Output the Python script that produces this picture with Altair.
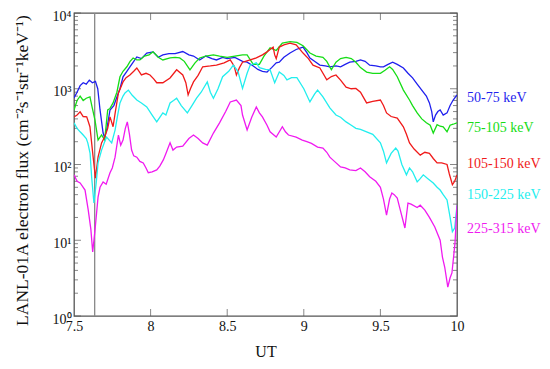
import altair as alt
import pandas as pd

series_names = ["50-75 keV", "75-105 keV", "105-150 keV", "150-225 keV", "225-315 keV"]
series_colors = ["#1f1fee", "#16dd16", "#f01a1a", "#22eeee", "#f01af0"]

t_blue = [7.50, 7.52, 7.54, 7.56, 7.58, 7.60, 7.62, 7.64, 7.655, 7.67, 7.69, 7.70, 7.715, 7.735, 7.76, 7.78,
          7.80, 7.82, 7.845, 7.865, 7.89, 7.91, 7.94, 7.975, 8.016, 8.05, 8.08, 8.12, 8.16, 8.21, 8.25, 8.28,
          8.32, 8.36, 8.40, 8.43, 8.47, 8.50, 8.55, 8.60, 8.63, 8.67, 8.70, 8.73, 8.76, 8.79, 8.82, 8.84,
          8.87, 8.91, 8.95, 8.995, 9.02, 9.04, 9.07, 9.105, 9.14, 9.17, 9.21, 9.24, 9.27, 9.30, 9.34, 9.37,
          9.40, 9.43, 9.47, 9.50, 9.52, 9.55, 9.58, 9.61, 9.65, 9.68, 9.71, 9.74, 9.78, 9.80, 9.82, 9.835,
          9.845, 9.86, 9.875, 9.89, 9.91, 9.935, 9.955, 9.975, 10.0]
v_blue = [755, 900, 1100, 1200, 1150, 1300, 1200, 1250, 1000, 525, 260, 225, 300, 525, 600, 780,
          1000, 1440, 1700, 1950, 2300, 2630, 2500, 2960, 3070, 2600, 2800, 2900, 2900, 3100, 2800, 2700,
          2400, 2700, 2500, 2400, 2600, 2500, 2600, 2300, 2240, 2000, 1800, 1700, 1660, 1900, 2200, 2240,
          2600, 2960, 3300, 3550, 3000, 2550, 2300, 2050, 2000, 1950, 2000, 1950, 2100, 2240, 2300, 2400,
          2300, 2050, 2000, 1950, 1950, 2100, 2240, 2100, 1880, 1600, 1390, 1150, 900, 800, 650, 500,
          365, 450, 500, 525, 450, 480, 600, 710, 830]

t_green = [7.50, 7.52, 7.54, 7.56, 7.58, 7.604, 7.62, 7.637, 7.657, 7.67, 7.68, 7.70, 7.72, 7.735, 7.755, 7.78,
           7.80, 7.82, 7.845, 7.866, 7.886, 7.91, 7.93, 7.96, 7.99, 8.016, 8.05, 8.08, 8.127, 8.16, 8.19, 8.22,
           8.257, 8.29, 8.32, 8.36, 8.41, 8.45, 8.50, 8.55, 8.60, 8.63, 8.67, 8.71, 8.74, 8.78, 8.82, 8.86,
           8.91, 8.955, 8.995, 9.04, 9.08, 9.125, 9.15, 9.18, 9.21, 9.24, 9.276, 9.31, 9.34, 9.37, 9.41, 9.45,
           9.50, 9.53, 9.56, 9.58, 9.61, 9.65, 9.69, 9.71, 9.74, 9.77, 9.80, 9.825, 9.845, 9.87, 9.89, 9.91,
           9.935, 9.955, 9.975, 10.0]
v_green = [525, 700, 800, 700, 750, 780, 550, 385, 210, 230, 245, 210, 525, 550, 650, 900,
           1440, 1700, 1950, 2300, 2550, 2400, 2400, 2700, 2800, 3070, 2600, 2400, 2550, 2600, 2550, 2300,
           1780, 2200, 2550, 2700, 2800, 2700, 2600, 2700, 2800, 2800, 2100, 2100, 2700, 3460, 3200, 4000,
           4200, 4100, 3700, 2960, 2700, 2600, 2300, 1780, 2240, 2500, 2600, 2500, 2240, 1900, 1660, 1600,
           1600, 1750, 1950, 1800, 1440, 960, 710, 600, 480, 400, 355, 330, 260, 335, 320, 315,
           270, 330, 340, 355]

t_red = [7.50, 7.52, 7.54, 7.56, 7.583, 7.604, 7.625, 7.64, 7.657, 7.68, 7.70, 7.72, 7.735, 7.755, 7.77, 7.79,
         7.82, 7.84, 7.865, 7.89, 7.91, 7.94, 7.97, 7.996, 8.02, 8.04, 8.08, 8.127, 8.17, 8.21, 8.23, 8.245,
         8.26, 8.28, 8.31, 8.34, 8.39, 8.43, 8.48, 8.52, 8.545, 8.56, 8.58, 8.60, 8.65, 8.69, 8.73, 8.76,
         8.78, 8.80, 8.81, 8.82, 8.84, 8.87, 8.91, 8.95, 8.995, 9.03, 9.06, 9.105, 9.15, 9.18, 9.21, 9.24,
         9.276, 9.31, 9.34, 9.37, 9.41, 9.45, 9.50, 9.52, 9.54, 9.57, 9.61, 9.65, 9.67, 9.69, 9.72, 9.76,
         9.79, 9.82, 9.845, 9.87, 9.90, 9.935, 9.95, 9.97, 9.985, 10.0]
v_red = [425, 450, 495, 430, 425, 315, 125, 66, 125, 193, 230, 300, 425, 315, 500, 880,
         1230, 1400, 1520, 1700, 1880, 1520, 1600, 1520, 1350, 1200, 1200, 1390, 1780, 1520, 1200, 830,
         1000, 1230, 1500, 1950, 2000, 2050, 2200, 2400, 2000, 1520, 1900, 2240, 2400, 2550, 2800, 3070,
         3300, 3550, 2800, 2500, 3550, 3800, 4000, 3800, 2960, 2500, 2050, 1880, 1310, 1450, 1520, 1300,
         1050, 1000, 1010, 900, 650, 680, 710, 600, 480, 430, 410, 315, 250, 193, 160, 133,
         145, 140, 120, 105, 105, 100, 75, 54, 60, 73]

t_cyan = [7.50, 7.52, 7.54, 7.56, 7.58, 7.59, 7.605, 7.615, 7.63, 7.645, 7.657, 7.68, 7.70, 7.713, 7.73, 7.746,
          7.768, 7.785, 7.80, 7.82, 7.833, 7.855, 7.88, 7.91, 7.94, 7.975, 8.01, 8.04, 8.06, 8.08, 8.10, 8.127,
          8.15, 8.17, 8.20, 8.24, 8.27, 8.30, 8.33, 8.37, 8.39, 8.41, 8.44, 8.47, 8.51, 8.54, 8.57, 8.60,
          8.63, 8.65, 8.69, 8.71, 8.75, 8.78, 8.81, 8.84, 8.87, 8.89, 8.92, 8.955, 9.00, 9.04, 9.07, 9.09,
          9.125, 9.17, 9.21, 9.24, 9.276, 9.31, 9.34, 9.37, 9.41, 9.45, 9.50, 9.52, 9.54, 9.57, 9.60, 9.615,
          9.64, 9.67, 9.69, 9.71, 9.74, 9.76, 9.78, 9.81, 9.845, 9.87, 9.89, 9.91, 9.935, 9.955, 9.97, 9.985,
          10.0]
v_cyan = [355, 300, 270, 245, 220, 193, 140, 69, 31, 57, 105, 155, 200, 230, 210, 193,
          285, 450, 650, 800, 880, 960, 820, 710, 650, 575, 450, 365, 420, 480, 450, 650,
          700, 750, 600, 480, 600, 750, 900, 1230, 900, 750, 1000, 1440, 1700, 2050, 1700, 1010,
          1600, 2050, 2200, 1900, 1800, 1780, 1200, 1660, 1500, 1310, 1400, 1400, 1000, 670, 850, 960,
          780, 560, 450, 420, 365, 330, 300, 290, 270, 250, 193, 150, 105, 140, 165, 150,
          100, 73, 90, 80, 59, 65, 73, 65, 57, 50, 46, 40, 34, 20, 13, 14.5,
          29]

t_mag = [7.50, 7.52, 7.54, 7.56, 7.572, 7.593, 7.61, 7.622, 7.637, 7.657, 7.67, 7.69, 7.71, 7.735, 7.75, 7.768,
         7.79, 7.805, 7.82, 7.835, 7.848, 7.862, 7.876, 7.89, 7.91, 7.93, 7.952, 7.97, 7.985, 8.01, 8.04, 8.06,
         8.083, 8.10, 8.127, 8.146, 8.17, 8.21, 8.25, 8.28, 8.31, 8.34, 8.37, 8.41, 8.45, 8.49, 8.52, 8.56,
         8.59, 8.60, 8.63, 8.66, 8.69, 8.71, 8.73, 8.76, 8.78, 8.82, 8.86, 8.88, 8.90, 8.95, 8.99, 9.02,
         9.05, 9.09, 9.125, 9.15, 9.17, 9.20, 9.24, 9.27, 9.30, 9.34, 9.37, 9.40, 9.43, 9.47, 9.50, 9.52,
         9.54, 9.56, 9.575, 9.59, 9.61, 9.63, 9.66, 9.68, 9.70, 9.74, 9.76, 9.79, 9.82, 9.855, 9.89, 9.905,
         9.92, 9.94, 9.955, 9.967, 9.987, 10.0]
v_mag = [73, 60, 57, 50, 46, 25, 14, 7, 13.6, 37, 50, 59, 55, 78, 90, 125,
         245, 180, 210, 300, 365, 250, 155, 130, 125, 110, 105, 90, 78, 80, 85, 95,
         115, 140, 193, 155, 170, 175, 220, 245, 220, 193, 180, 260, 355, 500, 670, 710,
         600, 450, 285, 420, 575, 480, 425, 330, 270, 230, 315, 270, 245, 230, 210, 200,
         190, 170, 165, 145, 125, 110, 93, 90, 85, 83, 90, 80, 69, 60, 50, 35,
         21.5, 35, 42, 40, 36, 25, 14.5, 31, 30, 27, 29, 25, 20, 15, 10, 6,
         4.4, 2.4, 3.2, 3.7, 9.2, 29]

label_y = [755, 303, 102, 39.6, 14.1]
marker_time = [7.635]
y_major = [1, 10, 100, 1000, 10000]
y_minor = [m * 10 ** k for k in range(4) for m in range(2, 10)]
x_ticks = [8, 8.5, 9, 9.5]

rows = []
for name, ts, vs in zip(series_names,
                        [t_blue, t_green, t_red, t_cyan, t_mag],
                        [v_blue, v_green, v_red, v_cyan, v_mag]):
    for t, v in zip(ts, vs):
        rows.append({"s": name, "t": t, "v": v})
df = pd.DataFrame(rows)
labels = pd.DataFrame({"s": series_names, "t": [10.0] * 5, "v": label_y})

W, H = 383, 303
FONT = "Liberation Serif"
FRAME = "#555555"

xscale = alt.Scale(domain=[7.5, 10], nice=False, zero=False)
yscale = alt.Scale(type="log", domain=[1, 10000], nice=False)
cscale = alt.Scale(domain=series_names, range=series_colors)

xaxis = alt.Axis(values=[7.5, 8, 8.5, 9, 9.5, 10], format=".1~f", grid=False, domain=False, ticks=False,
                 labelFont=FONT, labelFontSize=14, labelColor="#111", labelPadding=3, labelFlush=False,
                 title="UT", titleFont=FONT, titleFontSize=16, titleFontWeight="normal", titleColor="#111",
                 titleY=40, titleBaseline="alphabetic")
yaxis = alt.Axis(values=y_major, grid=False, domain=False, ticks=False,
                 labelExpr="'10' + ['⁰','¹','²','³','⁴'][round(log(datum.value)/LN10)]",
                 labelFont=FONT, labelFontSize=14, labelColor="#111", labelPadding=3, labelOffset=3,
                 title="LANL-01A electron flux (cm⁻²s⁻¹str⁻¹keV⁻¹)", titleFont=FONT, titleFontSize=17.5,
                 titleFontWeight="normal", titleColor="#111", titleAngle=-90, titleX=-52, titleY=157,
                 titleAlign="center", titleBaseline="middle")

lines = alt.Chart(df).mark_line(strokeWidth=1.3, clip=True).encode(
    x=alt.X("t:Q", scale=xscale, axis=xaxis),
    y=alt.Y("v:Q", scale=yscale, axis=yaxis),
    color=alt.Color("s:N", scale=cscale, legend=None),
    detail="s:N",
)

rule = alt.Chart(pd.DataFrame({"t": marker_time})).mark_rule(color="#888888", strokeWidth=1.3).encode(
    x=alt.X("t:Q", scale=xscale))

text = alt.Chart(labels).mark_text(align="left", baseline="middle", dx=10, font=FONT, fontSize=14).encode(
    x=alt.X("t:Q", scale=xscale), y=alt.Y("v:Q", scale=yscale), text="s:N",
    color=alt.Color("s:N", scale=cscale, legend=None))

ymaj = pd.DataFrame({"v": y_major})
ymin = pd.DataFrame({"v": y_minor})
xt = pd.DataFrame({"t": x_ticks})

def ytick(data, length, right):
    pos = W - length / 2 if right else length / 2
    return alt.Chart(data).mark_tick(orient="horizontal", size=length, thickness=1, color=FRAME).encode(
        y=alt.Y("v:Q", scale=yscale), x=alt.value(pos))

def xtick(length, bottom):
    pos = H - length / 2 if bottom else length / 2
    return alt.Chart(xt).mark_tick(orient="vertical", size=length, thickness=1, color=FRAME).encode(
        x=alt.X("t:Q", scale=xscale), y=alt.value(pos))

chart = alt.layer(
    ytick(ymaj, 7, False), ytick(ymaj, 7, True), ytick(ymin, 4, False), ytick(ymin, 4, True),
    xtick(7, False), xtick(7, True),
    rule, lines, text,
).properties(
    width=W, height=H,
    autosize=alt.AutoSizeParams(type="none"),
    padding={"left": 66, "top": 5, "right": 84, "bottom": 45},
).configure_view(stroke=FRAME, strokeWidth=1.3)

chart.save("out.html", embed_options={"renderer": "svg", "actions": False})
